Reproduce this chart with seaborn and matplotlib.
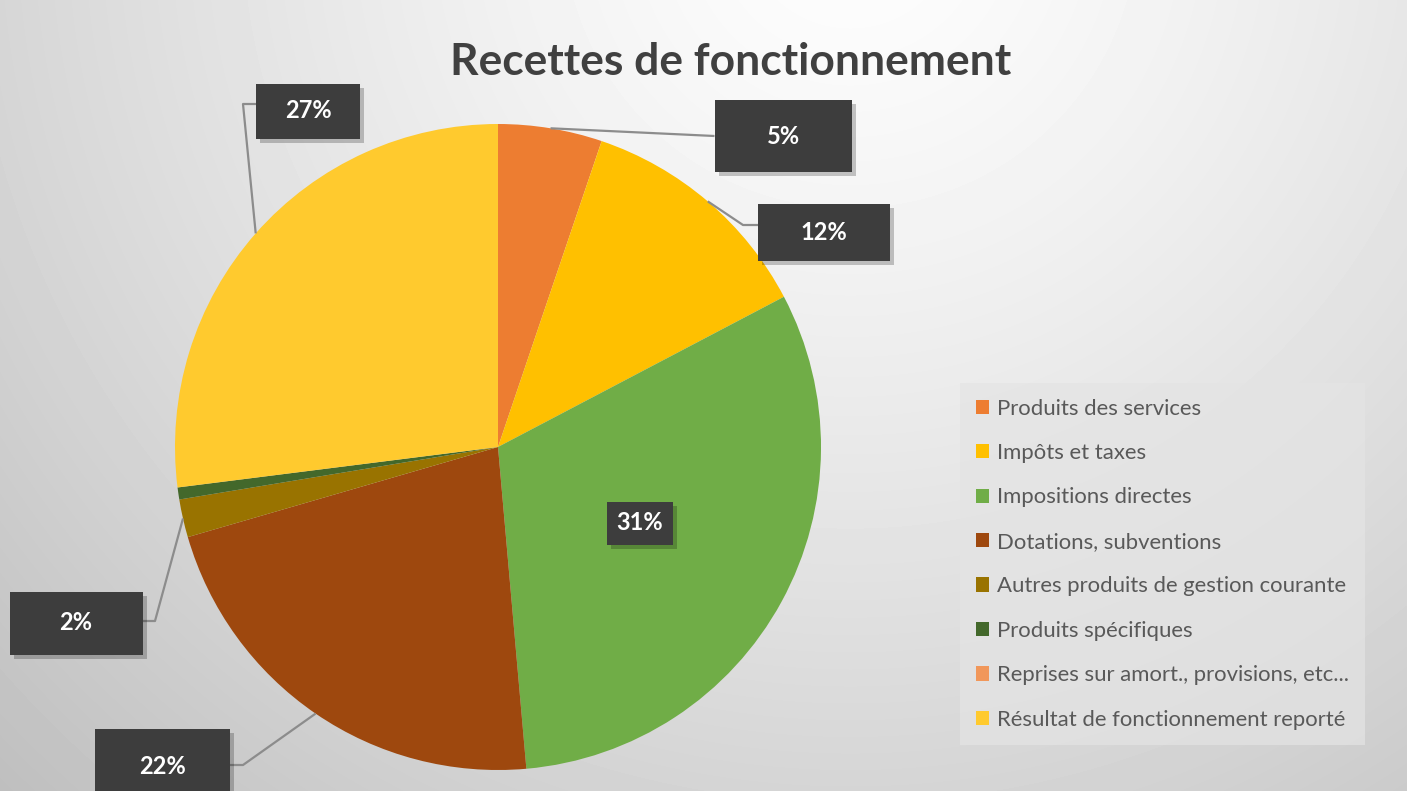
import numpy as np
import matplotlib
matplotlib.use("Agg")
import matplotlib.pyplot as plt
import seaborn as sns
from matplotlib.patches import Rectangle

# ---------------- data ----------------
title = "Recettes de fonctionnement"
categories = [
    "Produits des services",
    "Impôts et taxes",
    "Impositions directes",
    "Dotations, subventions",
    "Autres produits de gestion courante",
    "Produits spécifiques",
    "Reprises sur amort., provisions, etc...",
    "Résultat de fonctionnement reporté",
]
values = [5.2, 12.1, 31.3, 21.9, 1.9, 0.6, 0.0, 27.0]
value_labels = ["5%", "12%", "31%", "22%", "2%", None, None, "27%"]
colors = ["#ED7D31", "#FFC000", "#70AD47", "#9E480E",
          "#997300", "#43682B", "#F1975A", "#FFCA2E"]

# ---------------- layout (pixels, y down) ----------------
W, H = 1407, 791
CENTER = (498, 447)
RADIUS = 323
label_layout = {
    0: dict(box=(783, 136, 137, 72), elbow=None),
    1: dict(box=(824, 232, 132, 57), elbow=(743, 225)),
    2: dict(box=(640, 523, 66, 43), inside=True),
    3: dict(box=(162, 767, 135, 76), elbow=(243, 765)),
    4: dict(box=(76, 623, 133, 63), elbow=(155, 621)),
    7: dict(box=(308, 111, 104, 55), elbow=(243, 104)),
}

sns.set_style("white")
sns.set_palette(colors)
plt.rcParams['font.family'] = ['Lato', 'DejaVu Sans']

fig = plt.figure(figsize=(W / 100, H / 100), dpi=100)
ax = fig.add_axes([0, 0, 1, 1])

# background radial gradient
yy, xx = np.mgrid[0:H, 0:W]
d = np.sqrt((xx - 850.0) ** 2 + (yy + 80.0) ** 2) / 1150.0
grad = 0.995 - 0.23 * np.clip(d, 0, 1.2) ** 1.3
ax.imshow(grad, cmap="gray", vmin=0, vmax=1, extent=(0, W, H, 0), zorder=0,
          interpolation="bilinear")

# pie (y axis inverted -> clockwise on screen = counterclock in data)
wedges, _ = ax.pie(values, colors=colors, startangle=-90, counterclock=True,
                   center=CENTER, radius=RADIUS, frame=True,
                   wedgeprops=dict(linewidth=0, zorder=2))
ax.set_xlim(0, W)
ax.set_ylim(H, 0)
ax.set_aspect("auto")
ax.axis("off")

# data labels with leader lines
cum = np.cumsum([0] + values)
total = cum[-1]
for i, lab in enumerate(value_labels):
    if lab is None:
        continue
    lay = label_layout[i]
    bx, by, bw, bh = lay["box"]
    if not lay.get("inside", False):
        mid = (cum[i] + cum[i + 1]) / 2 / total
        theta = np.deg2rad(-90 + 360 * mid)
        sx = CENTER[0] + RADIUS * np.cos(theta)
        sy = CENTER[1] + RADIUS * np.sin(theta)
        ex = bx - bw / 2 if sx < bx else bx + bw / 2
        if lay["elbow"] is None:
            xs, ys = [sx, ex], [sy, by]
        else:
            elx, ely = lay["elbow"]
            ex = bx - bw / 2 if elx < bx else bx + bw / 2
            xs, ys = [sx, elx, ex], [sy, ely, ely]
        ax.plot(xs, ys, color="#8c8c8c", lw=1.6, zorder=3, solid_capstyle="butt")
    ax.add_patch(Rectangle((bx - bw / 2 + 4, by - bh / 2 + 4), bw, bh,
                           facecolor="black", alpha=0.22, lw=0, zorder=4))
    ax.add_patch(Rectangle((bx - bw / 2, by - bh / 2), bw, bh,
                           facecolor="#3d3d3d", lw=0, zorder=5))
    ax.text(bx, by, lab, color="white", fontsize=17, fontweight="bold",
            ha="center", va="center", zorder=6)

# title fitted to its width in the reference
renderer = fig.canvas.get_renderer()
t = ax.text(731, 75, title, fontsize=34, fontweight="bold", color="#404040",
            ha="center", va="baseline", zorder=6)
wt = t.get_window_extent(renderer).width
t.set_fontsize(34 * 562 / wt)

# legend
fs = 13.0
probe = fig.text(0, 0, categories[4], fontsize=fs)
wl = probe.get_window_extent(renderer).width
probe.remove()
fs = fs * 349 / wl
row_px = 44.5
fs_px = fs * 100 / 72
text_h = fs_px * 1.2 - 6.6
leg = ax.legend(wedges, categories, loc="upper left",
                bbox_to_anchor=(960 / W, 1 - 383 / H), bbox_transform=fig.transFigure,
                fontsize=fs, frameon=True, fancybox=False, borderaxespad=0,
                handlelength=0.62, handleheight=0.62, handletextpad=0.35,
                labelspacing=(row_px - text_h) / fs_px, borderpad=0.7,
                labelcolor="#595959")
frame = leg.get_frame()
frame.set_facecolor("#e4e4e4")
frame.set_alpha(0.7)
frame.set_edgecolor("none")

fig.savefig("out.png", dpi=100)
